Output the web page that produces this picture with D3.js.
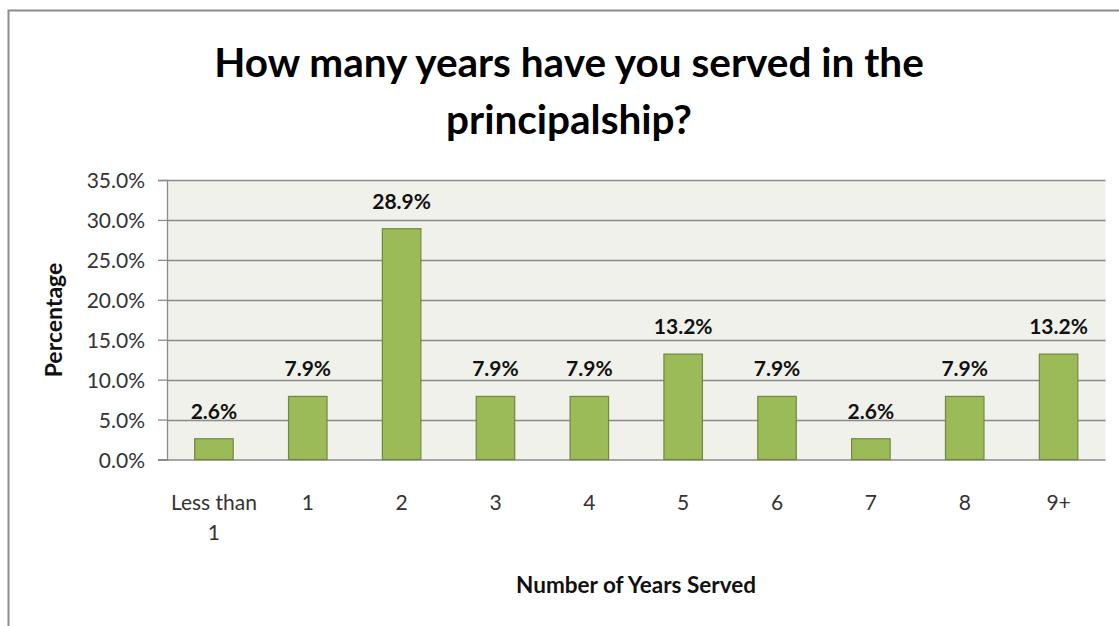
<!DOCTYPE html>
<html><head><meta charset="utf-8">
<script src="https://cdn.jsdelivr.net/npm/d3@7"></script>
<style>body{margin:0;background:#fff;} svg{display:block;}</style>
</head><body>
<script>
const categories = ["Less than 1","1","2","3","4","5","6","7","8","9+"];
const values = [2.6, 7.9, 28.9, 7.9, 7.9, 13.2, 7.9, 2.6, 7.9, 13.2];
const yTicks = [0,5,10,15,20,25,30,35];
const titleLines = ["How many years have you served in the","principalship?"];
const xTitle = "Number of Years Served";
const yTitle = "Percentage";

const W = 1119, H = 626;
const font = "Lato, 'Open Sans', sans-serif";
const svg = d3.select("body").append("svg").attr("width", W).attr("height", H);

// outer frame
svg.append("rect").attr("x",8.5).attr("y",10.5).attr("width",1200).attr("height",700)
  .attr("fill","#fff").attr("stroke","#8c8c8c").attr("stroke-width",2);

const pl = 167, pr = 1105.5, pt = 180, pb = 459.5;
const x = d3.scaleBand().domain(categories).range([pl, pr]).padding(0);
const y = d3.scaleLinear().domain([0,35]).range([pb, pt]);

svg.append("rect").attr("x",pl).attr("y",pt).attr("width",pr-pl).attr("height",pb-pt).attr("fill","#eff1ea");

// gridlines
svg.append("g").selectAll("line").data(yTicks.filter(d=>d>0)).join("line")
  .attr("x1",pl).attr("x2",pr).attr("y1",d=>Math.round(y(d))+0.5).attr("y2",d=>Math.round(y(d))+0.5)
  .attr("stroke","#8a8a8a").attr("stroke-width",1.3);

// y axis
const yAxis = svg.append("g").attr("transform",`translate(${pl},0)`)
  .call(d3.axisLeft(y).tickValues(yTicks).tickSize(9).tickFormat(d=>d.toFixed(1)+"%"));
yAxis.select(".domain").attr("stroke","#8a8a8a").attr("stroke-width",1.3);
yAxis.selectAll(".tick line").attr("stroke","#8a8a8a").attr("stroke-width",1.3);
yAxis.selectAll(".tick text").attr("font-family",font).attr("font-size",21).attr("fill","#333").attr("x",-22).attr("dy","0.36em");

// x axis line
svg.append("line").attr("x1",pl-9).attr("x2",pr).attr("y1",pb+0.5).attr("y2",pb+0.5).attr("stroke","#8a8a8a").attr("stroke-width",1.3);

// bars
const bw = x.bandwidth()*0.41;
svg.append("g").selectAll("rect").data(values).join("rect")
  .attr("x",(d,i)=>x(categories[i])+x.bandwidth()/2-bw/2)
  .attr("y",d=>y(d)).attr("width",bw).attr("height",d=>pb-y(d))
  .attr("fill","#9bbb59").attr("stroke","#71893f").attr("stroke-width",1.2);

// data labels
svg.append("g").selectAll("text").data(values).join("text")
  .attr("x",(d,i)=>x(categories[i])+x.bandwidth()/2)
  .attr("y",d=>y(d)-20)
  .attr("text-anchor","middle").attr("font-family",font).attr("font-weight","bold")
  .attr("font-size",21).attr("fill","#111").text(d=>d.toFixed(1)+"%");

// category labels
const cl = svg.append("g").selectAll("text").data(categories).join("text")
  .attr("text-anchor","middle").attr("font-family",font).attr("font-size",21).attr("fill","#333");
cl.each(function(d){
  const t = d3.select(this);
  const cx = x(d)+x.bandwidth()/2;
  const lines = d==="Less than 1" ? ["Less than","1"] : [d];
  lines.forEach((s,k)=>t.append("tspan").attr("x",cx).attr("y",510+k*30).text(s));
});

// titles
svg.append("g").selectAll("text").data(titleLines).join("text")
  .attr("x",569).attr("y",(d,i)=>77+i*57).attr("text-anchor","middle")
  .attr("font-family",font).attr("font-weight","bold").attr("font-size",40.5).attr("fill","#000")
  .text(d=>d);

svg.append("text").attr("x",636).attr("y",593).attr("text-anchor","middle")
  .attr("font-family",font).attr("font-weight","bold").attr("font-size",22.5).attr("fill","#111").text(xTitle);

svg.append("text").attr("transform","translate(62,320) rotate(-90)").attr("text-anchor","middle")
  .attr("font-family",font).attr("font-weight","bold").attr("font-size",23).attr("fill","#111").text(yTitle);
</script>
</body></html>
